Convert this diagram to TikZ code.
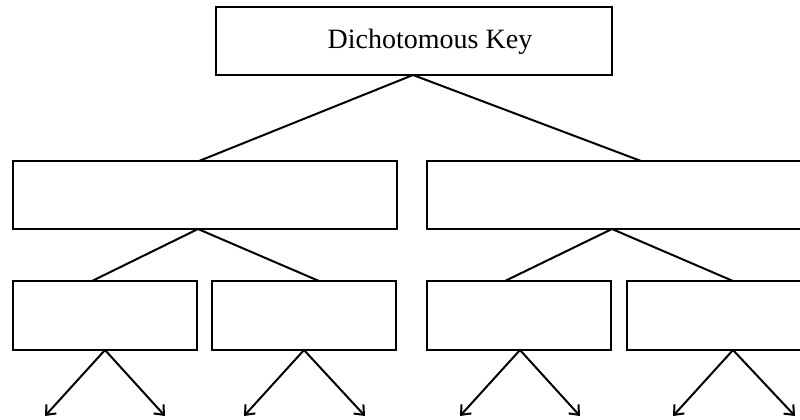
\documentclass[tikz,border=0pt]{standalone}
\usepackage{fontspec}
\setmainfont{Liberation Serif}
\usetikzlibrary{arrows.meta}
\begin{document}
\begin{tikzpicture}[x=0.75pt,y=-0.75pt,
  boxstyle/.style={draw,line width=1.5pt,rectangle,inner sep=0pt},
  topbox/.style={boxstyle,minimum width=297pt,minimum height=51pt},
  midbox/.style={boxstyle,minimum width=288pt,minimum height=51pt},
  lowbox/.style={boxstyle,minimum width=138pt,minimum height=51.5pt},
  link/.style={line width=1.5pt},
  arr/.style={line width=1.5pt,-{Straight Barb[length=6pt,width=10pt,line width=1.5pt]}}]
\useasboundingbox (0,0) rectangle (800,419);
\clip (0,0) rectangle (800,419);
\node[topbox] (top) at (414,41) {};
\node[font=\fontsize{21}{24}\selectfont] (title) at (430,42) {Dichotomous Key};
\node[midbox] (m1) at (205,195) {};
\node[midbox] (m2) at (619,195) {};
\node[lowbox] (b1) at (105,315.5) {};
\node[lowbox] (b2) at (304,315.5) {};
\node[lowbox] (b3) at (519,315.5) {};
\node[lowbox] (b4) at (719,315.5) {};
\coordinate (t0) at (413,75);
\coordinate (m1t) at (199,161);
\coordinate (m2t) at (641,161);
\coordinate (m1b) at (198,229);
\coordinate (m2b) at (612,229);
\coordinate (b1t) at (92,281);
\coordinate (b2t) at (319,281);
\coordinate (b3t) at (505,281);
\coordinate (b4t) at (733,281);
\draw[link] (m1t) -- (t0) -- (m2t);
\draw[link] (b1t) -- (m1b) -- (b2t);
\draw[link] (b3t) -- (m2b) -- (b4t);
\coordinate (s1) at (105,350);
\coordinate (s2) at (304,350);
\coordinate (s3) at (520,350);
\coordinate (s4) at (733,350);
\coordinate (e1) at (45,416);
\coordinate (e2) at (165,416);
\coordinate (e3) at (244,416);
\coordinate (e4) at (365,416);
\coordinate (e5) at (460,416);
\coordinate (e6) at (580,416);
\coordinate (e7) at (673,416);
\coordinate (e8) at (795,416);
\draw[arr] (s1) -- (e1);
\draw[arr] (s1) -- (e2);
\draw[arr] (s2) -- (e3);
\draw[arr] (s2) -- (e4);
\draw[arr] (s3) -- (e5);
\draw[arr] (s3) -- (e6);
\draw[arr] (s4) -- (e7);
\draw[arr] (s4) -- (e8);
\end{tikzpicture}
\end{document}
